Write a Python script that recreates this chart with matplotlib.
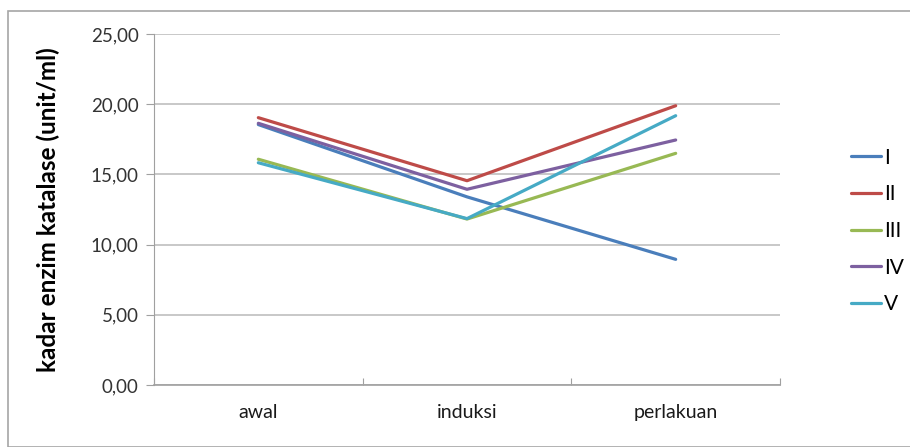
import matplotlib.pyplot as plt
import matplotlib.patches as patches
import numpy as np

categories = ["awal", "induksi", "perlakuan"]
series_names = ["I", "II", "III", "IV", "V"]
I_vals = [18.55, 13.4, 8.95]
II_vals = [19.04, 14.55, 19.89]
III_vals = [16.08, 11.82, 16.5]
IV_vals = [18.64, 13.94, 17.45]
V_vals = [15.83, 11.85, 19.18]
y_ticks = [0, 5, 10, 15, 20, 25]

colors = ["#4A7EBB", "#BE4B48", "#98B954", "#7D60A0", "#46AAC5"]
all_vals = [I_vals, II_vals, III_vals, IV_vals, V_vals]

plt.rcParams['font.family'] = ['Lato', 'DejaVu Sans']

fig = plt.figure(figsize=(9.1, 4.47), dpi=100)
ax = fig.add_axes([154/910, 62/447, 626/910, 351/447])

x = np.arange(len(categories))
for name, vals, c in zip(series_names, all_vals, colors):
    ax.plot(x, vals, color=c, linewidth=2.3, label=name, solid_capstyle='round')

ax.set_xlim(-0.5, len(categories) - 0.5)
ax.set_ylim(0, 25)
ax.set_yticks(y_ticks)
ax.set_yticklabels([("%.2f" % v).replace(".", ",") for v in y_ticks])
ax.set_xticks(np.arange(len(categories) + 1) - 0.5)
ax.set_xticklabels([])
ax.set_xticks(x, minor=True)
ax.set_xticklabels(categories, minor=True)
ax.tick_params(axis='x', which='minor', length=0, pad=14, labelsize=14, colors='#1a1a1a')
ax.tick_params(axis='x', which='major', length=5, direction='in', color='#A0A0A0')
ax.tick_params(axis='y', length=6, color='#A0A0A0', labelsize=13.5, labelcolor='#333333', pad=5)

ax.grid(axis='y', color='#BFBFBF', linewidth=1.2)
ax.set_axisbelow(True)
for s in ['top', 'right']:
    ax.spines[s].set_visible(False)
ax.spines['left'].set_color('#A0A0A0')
ax.spines['bottom'].set_color('#A0A0A0')
ax.spines['bottom'].set_linewidth(1.2)

ax.set_ylabel("kadar enzim katalase (unit/ml)", fontsize=17.5, fontweight='bold', labelpad=22)

leg = fig.legend(loc='center left', bbox_to_anchor=(851/910, 1 - 231/447), frameon=False,
                 fontsize=15, handlelength=1.45, handletextpad=0.15, labelspacing=0.8,
                 borderpad=0, borderaxespad=0)

fig.patches.append(patches.Rectangle((8/910, 0), 1, 1 - 11/447, transform=fig.transFigure,
                                     fill=False, edgecolor='#A6A6A6', linewidth=1.2))

fig.savefig("out.png", dpi=100)
